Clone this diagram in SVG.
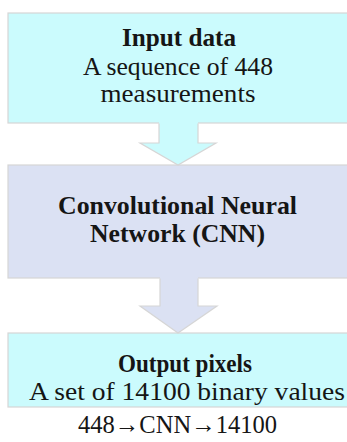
<svg xmlns="http://www.w3.org/2000/svg" width="347" height="442" viewBox="0 0 347 442">
  <style>
    .box { stroke: #d6d6d6; stroke-width: 1.2; }
    .cyan { fill: #cbfbfd; }
    .lav { fill: #dbe1f3; }
    .edge { fill: none; stroke: #d6d6d6; stroke-width: 1.2; stroke-linejoin: miter; }
    text { font-family: "Liberation Serif", "Times New Roman", serif; fill: #151515; text-anchor: middle; font-size: 25.5px; }
    .b { font-weight: bold; }
  </style>
  <rect width="347" height="442" fill="#ffffff"/>

  <g id="node-input">
    <rect class="box cyan" x="8" y="13" width="345" height="110"/>
    <text class="b" x="179" y="46" textLength="114" lengthAdjust="spacingAndGlyphs">Input data</text>
    <text x="178" y="75" textLength="190" lengthAdjust="spacingAndGlyphs">A sequence of 448</text>
    <text x="178" y="102" textLength="155" lengthAdjust="spacingAndGlyphs">measurements</text>
  </g>

  <g id="node-cnn">
    <rect class="box lav" x="8" y="165" width="345" height="113"/>
    <text class="b" x="177.5" y="214" textLength="239" lengthAdjust="spacingAndGlyphs">Convolutional Neural</text>
    <text class="b" x="177.5" y="242" textLength="175" lengthAdjust="spacingAndGlyphs">Network (CNN)</text>
  </g>

  <g id="node-output">
    <rect class="box cyan" x="8" y="333" width="360" height="74"/>
    <text class="b" x="185" y="372" textLength="134" lengthAdjust="spacingAndGlyphs">Output pixels</text>
    <text x="187" y="400" textLength="316" lengthAdjust="spacingAndGlyphs">A set of 14100 binary values</text>
  </g>

  <g id="connectors">
    <!-- input to CNN -->
    <polygon class="cyan" points="159,122 198,122 198,143 216,143 178,165 140,143 159,143"/>
    <polyline class="edge" points="159,123.5 159,143 140,143 178,165 216,143 198,143 198,123.5"/>
    <!-- CNN to output -->
    <polygon class="lav" points="160,277 198,277 198,306 217,306 178,333 140,306 160,306"/>
    <polyline class="edge" points="160,278.5 160,306 140,306 178,333 217,306 198,306 198,278.5"/>
  </g>

  <g id="summary">
    <text x="177.5" y="433" textLength="199" lengthAdjust="spacingAndGlyphs">448→CNN→14100</text>
  </g>
</svg>
